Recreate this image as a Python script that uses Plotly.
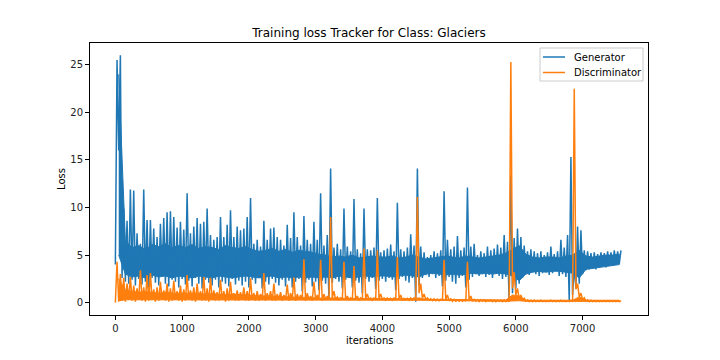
import plotly.graph_objects as go

# Per-bin readings (each bin = 50 iterations): extreme low / high of the noisy loss
bin_size = 50

gen_hi = [
    25.5, 26.0, 9.9, 8.6, 11.9, 11.8, 7.3, 6.2, 11.9, 8.7,
    8.7, 7.8, 6.9, 8.3, 8.9, 9.5, 9.6, 9.0, 7.9, 8.5,
    7.7, 11.5, 7.3, 8.0, 8.9, 8.3, 8.5, 9.9, 7.1, 6.6,
    6.9, 9.0, 6.9, 8.2, 9.7, 6.9, 8.0, 7.6, 7.8, 9.0,
    11.0, 6.2, 6.6, 5.9, 8.6, 6.6, 7.8, 7.9, 6.9, 6.6,
    6.0, 8.2, 6.8, 9.5, 6.9, 6.0, 9.1, 6.6, 6.2, 8.5,
    6.6, 11.5, 6.0, 7.1, 14.1, 5.8, 6.2, 5.6, 9.9, 5.9,
    5.4, 10.9, 5.6, 5.2, 9.9, 5.6, 5.5, 5.8, 11.0, 5.3,
    5.5, 5.7, 6.1, 5.4, 10.5, 5.6, 5.4, 5.8, 7.2, 6.0,
    14.1, 5.9, 5.3, 4.8, 5.0, 5.4, 5.2, 5.5, 11.7, 6.6,
    5.6, 5.9, 7.0, 5.5, 5.8, 12.1, 5.9, 6.2, 5.0, 5.4,
    5.2, 5.9, 5.5, 5.7, 6.1, 5.8, 7.1, 6.4, 13.4, 6.8,
    7.8, 6.9, 6.0, 5.4, 5.6, 5.4, 5.2, 5.4, 5.0, 5.3,
    5.9, 5.1, 5.4, 6.6, 5.8, 7.1, 15.3, 3.8, 8.0, 7.6,
    5.5, 5.4, 5.2, 5.3, 5.1, 5.3, 5.2, 5.4, 5.3, 5.5, 5.4, 5.5,
]

gen_lo = [
    4.0, 16.0, 2.6, 2.2, 2.0, 2.4, 1.8, 2.5, 1.9, 2.2,
    1.6, 2.6, 2.1, 1.8, 2.8, 2.0, 1.7, 2.4, 2.2, 1.6,
    2.5, 1.9, 2.3, 1.7, 2.6, 2.0, 1.5, 2.4, 2.1, 1.8,
    2.4, 1.6, 2.2, 2.0, 1.7, 2.5, 1.9, 2.3, 1.8, 2.2,
    1.6, 2.4, 2.0, 2.6, 1.5, 2.2, 1.9, 2.5, 2.1, 1.8,
    2.4, 1.7, 2.3, 1.6, 2.2, 2.5, 1.2, 2.1, 2.4, 1.7,
    2.2, 1.3, 2.3, 2.0, 0.4, 2.1, 2.5, 2.2, 1.5, 2.4,
    2.6, 1.6, 2.3, 2.1, 1.0, 2.5, 2.2, 2.6, 1.4, 2.3,
    2.5, 2.2, 2.6, 2.4, 1.3, 2.5, 2.7, 2.3, 2.1, 2.6,
    0.1, 1.8, 2.6, 2.9, 2.7, 3.0, 2.6, 2.8, 1.7, 2.3,
    2.7, 2.2, 2.0, 2.6, 2.8, 1.6, 2.4, 2.7, 3.0, 2.8,
    3.0, 2.7, 2.9, 2.6, 3.1, 2.8, 2.5, 2.7, 0.1, 1.0,
    1.5, 2.0, 2.6, 3.0, 2.9, 3.2, 3.0, 2.8, 3.1, 3.3,
    2.9, 3.1, 3.3, 2.8, 3.0, 2.7, 0.2, 0.8, 1.5, 2.0,
    3.0, 3.4, 3.5, 3.6, 3.5, 3.7, 3.8, 3.7, 3.9, 4.0, 4.1, 4.1,
]

disc_hi = [
    4.3, 3.0, 2.6, 2.0, 2.7, 1.8, 1.5, 3.4, 1.6, 2.9,
    3.1, 1.4, 1.6, 2.2, 1.3, 2.0, 1.5, 2.3, 1.2, 1.8,
    1.4, 2.9, 1.3, 1.6, 2.0, 1.2, 2.7, 1.5, 2.6, 1.3,
    1.1, 2.4, 1.2, 1.5, 2.2, 1.0, 1.3, 1.1, 1.6, 1.2,
    2.55, 1.0, 1.2, 0.9, 3.1, 1.0, 1.2, 2.0, 0.9, 1.1,
    0.8, 1.9, 1.0, 2.65, 0.9, 0.8, 4.55, 1.0, 0.7, 2.2,
    0.8, 4.5, 0.9, 0.7, 9.0, 1.2, 0.6, 0.5, 4.3, 0.7,
    0.5, 3.85, 0.7, 0.5, 5.7, 0.9, 0.5, 0.5, 5.5, 0.9,
    0.5, 0.5, 0.45, 0.5, 4.8, 0.8, 0.45, 0.45, 0.5, 0.5,
    11.1, 2.0, 0.9, 0.5, 0.4, 0.4, 0.35, 0.35, 4.5, 0.8,
    0.4, 0.35, 0.3, 0.3, 0.3, 4.3, 0.7, 0.35, 0.3, 0.3,
    0.3, 0.25, 0.3, 0.25, 0.25, 0.25, 0.3, 0.25, 25.3, 3.2,
    1.5, 0.8, 0.45, 0.3, 0.25, 0.25, 0.2, 0.25, 0.2, 0.2,
    0.25, 0.2, 0.2, 0.25, 0.2, 0.2, 0.25, 22.5, 2.0, 1.0,
    0.5, 0.3, 0.25, 0.2, 0.2, 0.2, 0.2, 0.2, 0.2, 0.2, 0.2, 0.2,
]

disc_lo = [
    0.0, 0.1, 0.2, 0.1, 0.3, 0.2, 0.1, 0.3, 0.2, 0.1,
    0.2, 0.3, 0.1, 0.2, 0.3, 0.2, 0.1, 0.2, 0.3, 0.2,
    0.1, 0.2, 0.3, 0.2, 0.1, 0.3, 0.2, 0.2, 0.1, 0.3,
    0.2, 0.2, 0.3, 0.1, 0.2, 0.3, 0.2, 0.2, 0.3, 0.2,
    0.2, 0.3, 0.2, 0.2, 0.3, 0.2, 0.3, 0.2, 0.2, 0.3,
    0.2, 0.3, 0.2, 0.3, 0.2, 0.3, 0.3, 0.2, 0.3, 0.2,
    0.3, 0.3, 0.2, 0.3, 0.3, 0.5, 0.3, 0.3, 0.3, 0.3,
    0.3, 0.3, 0.3, 0.25, 0.3, 0.4, 0.3, 0.25, 0.3, 0.4,
    0.3, 0.25, 0.3, 0.25, 0.3, 0.35, 0.25, 0.3, 0.25, 0.3,
    0.3, 1.0, 0.5, 0.3, 0.25, 0.2, 0.2, 0.2, 0.2, 0.3,
    0.2, 0.15, 0.15, 0.15, 0.15, 0.15, 0.25, 0.15, 0.15, 0.1,
    0.15, 0.1, 0.15, 0.1, 0.1, 0.15, 0.1, 0.1, 0.1, 1.5,
    0.8, 0.4, 0.25, 0.15, 0.1, 0.1, 0.1, 0.1, 0.1, 0.1,
    0.1, 0.1, 0.1, 0.1, 0.1, 0.1, 0.1, 0.1, 1.4, 0.6,
    0.3, 0.15, 0.1, 0.1, 0.1, 0.1, 0.1, 0.1, 0.1, 0.1, 0.1, 0.1,
]

# Dense core of each curve, per 100 iterations (where the line looks solid)
band_size = 100

gen_band_hi = [
    24.0, 6.5, 5.8, 6.0, 5.6, 6.1, 5.9, 6.2, 5.8, 6.0,
    5.8, 6.1, 5.7, 5.9, 5.8, 5.6, 6.0, 5.8, 5.7, 5.9,
    5.6, 5.4, 5.5, 5.7, 5.4, 5.6, 5.3, 5.5, 5.4, 5.3,
    5.1, 5.0, 4.8, 4.9, 4.8, 5.0, 4.7, 4.8, 4.9, 4.8,
    4.8, 4.9, 4.7, 4.8, 5.0, 4.8, 4.6, 4.7, 4.8, 4.9,
    4.8, 4.7, 4.9, 4.8, 4.7, 4.8, 4.9, 5.0, 5.2, 5.6,
    6.0, 5.1, 4.8, 4.7, 4.8, 4.8, 4.7, 4.9, 5.0, 5.5,
    4.9, 4.8, 4.9, 5.0, 5.0, 5.1,
]

gen_band_lo = [
    5.0, 3.0, 2.7, 2.8, 2.6, 2.9, 2.7, 2.8, 2.6, 2.8,
    2.7, 2.6, 2.8, 2.7, 2.6, 2.8, 2.7, 2.6, 2.7, 2.8,
    2.7, 2.6, 2.7, 2.8, 2.6, 2.7, 2.6, 2.7, 2.6, 2.7,
    2.6, 2.7, 2.6, 2.8, 2.7, 2.6, 2.7, 2.8, 2.7, 2.8,
    2.8, 2.7, 2.8, 2.9, 2.8, 2.7, 3.0, 3.1, 3.0, 2.9,
    3.0, 2.9, 3.0, 3.1, 3.0, 3.1, 3.0, 3.1, 3.0, 2.8,
    2.3, 3.0, 3.2, 3.3, 3.2, 3.3, 3.3, 3.2, 3.1, 2.6,
    3.5, 3.6, 3.7, 3.8, 3.9, 4.0,
]

disc_band_hi = [
    2.5, 1.3, 1.2, 1.1, 1.2, 1.1, 1.0, 1.1, 1.0, 1.0,
    1.0, 0.95, 1.0, 0.9, 0.95, 0.9, 0.85, 0.9, 0.85, 0.8,
    0.8, 0.75, 0.7, 0.7, 0.65, 0.6, 0.6, 0.55, 0.55, 0.5,
    0.5, 0.45, 0.5, 0.45, 0.45, 0.45, 0.45, 0.4, 0.45, 0.4,
    0.4, 0.4, 0.4, 0.4, 0.4, 0.5, 0.35, 0.35, 0.35, 0.35,
    0.3, 0.3, 0.3, 0.3, 0.28, 0.28, 0.28, 0.28, 0.28, 0.8,
    0.7, 0.25, 0.25, 0.25, 0.25, 0.25, 0.25, 0.25, 0.25, 0.6,
    0.25, 0.25, 0.25, 0.25, 0.25, 0.25,
]

disc_band_lo = [
    0.2, 0.3, 0.28, 0.3, 0.25, 0.3, 0.28, 0.3, 0.25, 0.3,
    0.28, 0.3, 0.25, 0.3, 0.28, 0.3, 0.25, 0.3, 0.28, 0.3,
    0.3, 0.28, 0.3, 0.3, 0.28, 0.3, 0.3, 0.28, 0.3, 0.3,
    0.3, 0.3, 0.28, 0.3, 0.3, 0.28, 0.3, 0.3, 0.28, 0.3,
    0.28, 0.28, 0.26, 0.28, 0.26, 0.28, 0.25, 0.24, 0.24, 0.22,
    0.2, 0.18, 0.18, 0.17, 0.16, 0.16, 0.15, 0.15, 0.15, 0.15,
    0.2, 0.14, 0.13, 0.13, 0.12, 0.12, 0.12, 0.12, 0.12, 0.15,
    0.12, 0.12, 0.12, 0.12, 0.12, 0.12,
]

series_names = ["Generator", "Discriminator"]
x_ticks = [0, 1000, 2000, 3000, 4000, 5000, 6000, 7000]
y_ticks = [0, 5, 10, 15, 20, 25]

BLUE = "#1f77b4"
ORANGE = "#ff7f0e"
FONT = "DejaVu Sans"

# axes box in pixels (matplotlib default subplot params for a 10x5 in figure @72dpi)
AX_L, AX_R, AX_T, AX_B = 90, 648, 43, 315
AX_W, AX_H = AX_R - AX_L, AX_B - AX_T


def zigzag(lo, hi):
    n = min(len(lo), len(hi))
    xs, ys = [], []
    for k in range(n):
        xs += [k * bin_size, k * bin_size + bin_size // 2]
        ys += [lo[k], hi[k]]
    return xs, ys


def band(lo, hi):
    n = min(len(lo), len(hi))
    centers = [j * band_size + band_size // 2 for j in range(n)]
    return centers + centers[::-1], list(hi[:n]) + list(lo[:n])[::-1]


def px(x):
    return (x - AX_L) / AX_W


def py(y):
    return (AX_B - y) / AX_H


fig = go.Figure()

bx, by = band(gen_band_lo, gen_band_hi)
fig.add_trace(go.Scatter(x=bx, y=by, mode="lines", fill="toself", fillcolor=BLUE,
                         line=dict(color=BLUE, width=1), showlegend=False,
                         hoverinfo="skip"))
gx, gy = zigzag(gen_lo, gen_hi)
fig.add_trace(go.Scatter(x=gx, y=gy, mode="lines", name=series_names[0],
                         line=dict(color=BLUE, width=1.5), showlegend=False))

bx, by = band(disc_band_lo, disc_band_hi)
fig.add_trace(go.Scatter(x=bx, y=by, mode="lines", fill="toself", fillcolor=ORANGE,
                         line=dict(color=ORANGE, width=1), showlegend=False,
                         hoverinfo="skip"))
dx, dy = zigzag(disc_lo, disc_hi)
fig.add_trace(go.Scatter(x=dx, y=dy, mode="lines", name=series_names[1],
                         line=dict(color=ORANGE, width=1.5), showlegend=False))

axis_common = dict(showline=True, linecolor="black", linewidth=1, mirror=True,
                   ticks="outside", ticklen=4, tickwidth=1, tickcolor="black",
                   showgrid=False, zeroline=False,
                   tickfont=dict(family=FONT, size=10, color="#222"))

# matplotlib-style legend box (upper right)
shapes = [dict(type="rect", xref="paper", yref="paper", layer="above",
               x0=px(540), x1=px(643), y0=py(81), y1=py(48),
               fillcolor="rgba(255,255,255,0.8)",
               line=dict(color="#cccccc", width=1))]
annotations = [
    dict(text="iterations", xref="paper", yref="paper", x=0.5, y=py(340),
         xanchor="center", yanchor="middle", showarrow=False,
         font=dict(family=FONT, size=10, color="black")),
    dict(text="Loss", xref="paper", yref="paper", x=px(61), y=0.5,
         xanchor="center", yanchor="middle", showarrow=False, textangle=-90,
         font=dict(family=FONT, size=10, color="black")),
]
for i, (name, col) in enumerate(zip(series_names, [BLUE, ORANGE])):
    yy = 57 + 15.5 * i
    shapes.append(dict(type="line", xref="paper", yref="paper", layer="above",
                       x0=px(543), x1=px(565), y0=py(yy), y1=py(yy),
                       line=dict(color=col, width=1.5)))
    annotations.append(dict(text=name, xref="paper", yref="paper",
                            x=px(572), y=py(yy), xanchor="left", yanchor="middle",
                            showarrow=False,
                            font=dict(family=FONT, size=10, color="black")))

fig.update_layout(
    width=720, height=360,
    margin=dict(l=AX_L, r=720 - AX_R, t=AX_T, b=360 - AX_B),
    plot_bgcolor="white", paper_bgcolor="white",
    font=dict(family=FONT, size=10, color="black"),
    title=dict(text="Training loss Tracker for Class: Glaciers",
               x=369 / 720, xanchor="center", xref="container",
               y=1 - 33 / 360, yanchor="middle", yref="container",
               font=dict(family=FONT, size=12, color="black")),
    xaxis=dict(range=[-380, 7980], tickvals=x_ticks, **axis_common),
    yaxis=dict(range=[-1.3, 27.3], tickvals=y_ticks, **axis_common),
    showlegend=False,
    shapes=shapes,
    annotations=annotations,
)

fig.write_html("out.html", config={"displayModeBar": False},
               post_script="document.body.style.margin='0';")
